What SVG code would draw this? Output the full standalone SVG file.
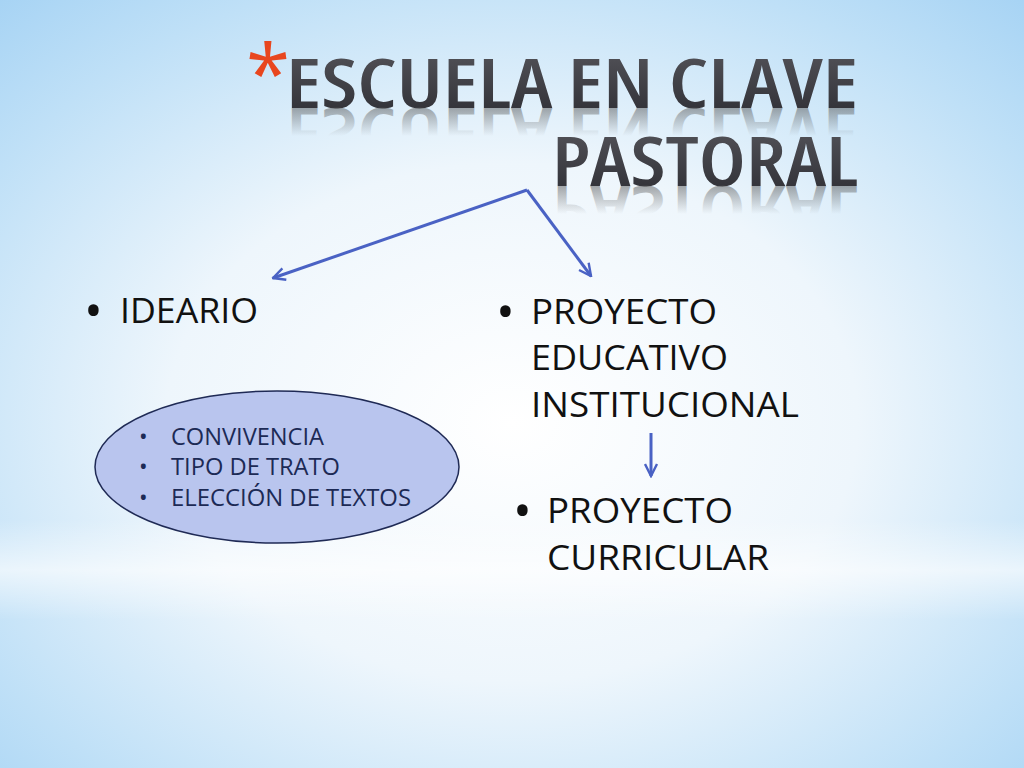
<svg xmlns="http://www.w3.org/2000/svg" width="1024" height="768" viewBox="0 0 1024 768">
<defs>
<radialGradient id="bg" cx="0.5" cy="0.55" r="0.75">
<stop offset="0" stop-color="#ffffff"/>
<stop offset="0.45" stop-color="#eef6fc"/>
<stop offset="0.8" stop-color="#bfe0f7"/>
<stop offset="1" stop-color="#a6d3f4"/>
</radialGradient>
<linearGradient id="band" x1="0" y1="0" x2="0" y2="1">
<stop offset="0" stop-color="#ffffff" stop-opacity="0"/>
<stop offset="0.5" stop-color="#ffffff" stop-opacity="0.6"/>
<stop offset="1" stop-color="#ffffff" stop-opacity="0"/>
</linearGradient>
<linearGradient id="tg" x1="0" y1="0" x2="0" y2="1">
<stop offset="0" stop-color="#5a5a60"/>
<stop offset="1" stop-color="#2a2a30"/>
</linearGradient>
<linearGradient id="refl1" gradientUnits="userSpaceOnUse" x1="0" y1="108" x2="0" y2="80">
<stop offset="0" stop-color="#555" stop-opacity="0.5"/>
<stop offset="1" stop-color="#555" stop-opacity="0"/>
</linearGradient>
<linearGradient id="refl2" gradientUnits="userSpaceOnUse" x1="0" y1="186" x2="0" y2="158">
<stop offset="0" stop-color="#555" stop-opacity="0.5"/>
<stop offset="1" stop-color="#555" stop-opacity="0"/>
</linearGradient>
<marker id="ah" viewBox="0 0 10 10" refX="9" refY="5" markerWidth="5" markerHeight="5" orient="auto" markerUnits="strokeWidth">
<path d="M1,1 L9,5 L1,9" fill="none" stroke="#4a62c4" stroke-width="1.6"/>
</marker>
<style>
.title{font-family:"Open Sans","DejaVu Sans",sans-serif;font-weight:600;font-size:68px;font-stretch:condensed;}
.body{font-family:"Open Sans","Liberation Sans",sans-serif;font-size:35px;fill:#111;}
.bul{font-family:"Open Sans","Liberation Sans",sans-serif;font-size:50px;fill:#111;}
.small{font-family:"Open Sans","Liberation Sans",sans-serif;font-size:23px;fill:#1c2a55;}
.conn{stroke:#4a62c4;stroke-width:3;fill:none;marker-end:url(#ah);}
</style>
</defs>
<rect width="1024" height="768" fill="url(#bg)"/>
<rect x="0" y="520" width="1024" height="100" fill="url(#band)"/>

<g id="title">
<text x="246" y="102" font-family="'Open Sans',sans-serif" font-size="80" fill="#e8461e">*</text>
<text class="title" x="858" y="108" text-anchor="end" fill="url(#tg)" textLength="572" lengthAdjust="spacingAndGlyphs">ESCUELA EN CLAVE</text>
<text class="title" x="858" y="108" text-anchor="end" fill="url(#refl1)" textLength="572" lengthAdjust="spacingAndGlyphs" transform="translate(0,216) scale(1,-1)">ESCUELA EN CLAVE</text>
<text class="title" x="858" y="186" text-anchor="end" fill="url(#tg)" textLength="306" lengthAdjust="spacingAndGlyphs">PASTORAL</text>
<text class="title" x="858" y="186" text-anchor="end" fill="url(#refl2)" textLength="306" lengthAdjust="spacingAndGlyphs" transform="translate(0,372) scale(1,-1)">PASTORAL</text>
</g>

<g id="connectors">
<path class="conn" d="M527,190 L273,278"/>
<path class="conn" d="M527,190 L591,276"/>
<path class="conn" d="M651,433 L651,476"/>
</g>

<g id="ideario">
<text class="bul" x="84" y="328">•</text>
<text class="body" x="120" y="323" textLength="138" lengthAdjust="spacingAndGlyphs">IDEARIO</text>
</g>

<g id="pei">
<text class="bul" x="496" y="329">•</text>
<text class="body" x="531" y="324" textLength="186" lengthAdjust="spacingAndGlyphs">PROYECTO</text>
<text class="body" x="531" y="370" textLength="197" lengthAdjust="spacingAndGlyphs">EDUCATIVO</text>
<text class="body" x="531" y="417" textLength="268" lengthAdjust="spacingAndGlyphs">INSTITUCIONAL</text>
</g>

<g id="curricular">
<text class="bul" x="513" y="528">•</text>
<text class="body" x="547" y="523" textLength="186" lengthAdjust="spacingAndGlyphs">PROYECTO</text>
<text class="body" x="547" y="570" textLength="222" lengthAdjust="spacingAndGlyphs">CURRICULAR</text>
</g>

<g id="ellipse">
<ellipse cx="277" cy="467" rx="182" ry="76" fill="#b9c5ee" stroke="#1f2a55" stroke-width="1.5"/>
<text class="small" x="139" y="445">•</text>
<text class="small" x="171" y="445" textLength="153" lengthAdjust="spacingAndGlyphs">CONVIVENCIA</text>
<text class="small" x="139" y="475">•</text>
<text class="small" x="171" y="475" textLength="169" lengthAdjust="spacingAndGlyphs">TIPO DE TRATO</text>
<text class="small" x="139" y="506">•</text>
<text class="small" x="171" y="506" textLength="240" lengthAdjust="spacingAndGlyphs">ELECCIÓN DE TEXTOS</text>
</g>
</svg>
